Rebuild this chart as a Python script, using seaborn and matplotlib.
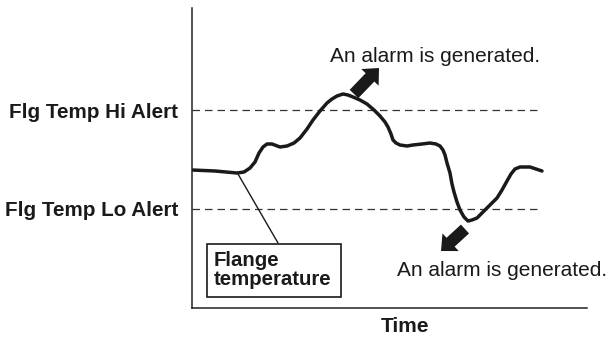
import matplotlib
matplotlib.use("Agg")
import matplotlib.pyplot as plt
import matplotlib.patches as mpatches
import pandas as pd
import seaborn as sns

# Flange temperature trace over time (arbitrary units)
time = [0, 23, 45, 52, 58, 63, 67, 71, 75, 80, 88, 95, 102, 108, 115, 121,
        128, 135, 140, 145, 151, 156, 161, 168, 175, 182, 188, 193, 196, 199,
        201, 204, 208, 215, 221, 230, 238, 244, 248, 251, 253, 255, 258, 260,
        262, 265, 268, 272, 276, 280, 285, 290, 295, 300, 305, 310, 315, 319,
        323, 328, 333, 338, 344, 350]
temperature = [138, 137, 135, 136, 140, 146, 155, 161, 164, 164, 161, 162, 165,
               170, 179, 188, 197, 205, 209, 212, 214, 213, 211, 208, 204, 198,
               192, 186, 181, 174, 168, 165, 163, 162, 163, 164, 165, 164, 162,
               158, 153, 145, 135, 124, 116, 106, 98, 91, 87, 88, 90, 95, 100,
               105, 110, 118, 127, 134, 139, 141, 141, 141, 139, 137]

# Alert thresholds
alert_levels = [198, 99]
alert_labels = ["Flg Temp Hi Alert", "Flg Temp Lo Alert"]

alarm_text = "An alarm is generated."
x_label = "Time"
box_label = "Flange\ntemperature"

sns.set_theme(style="white")
plt.rcParams["font.family"] = ["Liberation Sans", "DejaVu Sans"]

fig = plt.figure(figsize=(6.07, 3.40), dpi=100)
ax = fig.add_axes([192 / 607, 32 / 340, 395 / 607, 300 / 340])
ax.set_xlim(0, 395)
ax.set_ylim(0, 300)

ink = "#1a1a1a"

# threshold lines
for lvl in alert_levels:
    ax.axhline(lvl, xmin=0, xmax=346 / 395, color="#333333", lw=0.9,
               dashes=(6, 4))

# temperature trace
df = pd.DataFrame({"time": time, "temperature": temperature})
sns.lineplot(data=df, x="time", y="temperature", ax=ax, color=ink, lw=2.5,
             sort=False, solid_joinstyle="round", solid_capstyle="round")

# alarm arrows
for (x0, y0, x1, y1) in [(162, 214, 187, 240), (273, 79, 249, 57)]:
    ax.add_patch(mpatches.FancyArrow(x0, y0, x1 - x0, y1 - y0, width=12,
                                     head_width=24, head_length=13,
                                     length_includes_head=True,
                                     color=ink, lw=0))

ax.text(138, 251, alarm_text, fontsize=15, va="center", ha="left", color=ink)
ax.text(205, 37, alarm_text, fontsize=15, va="center", ha="left", color=ink)

# label box with leader line
ax.plot([46, 86], [134, 65], color=ink, lw=1.0)
ax.add_patch(mpatches.Rectangle((15, 11), 134, 53, fill=True, fc="white",
                                ec=ink, lw=1.2, zorder=3))
ax.text(22, 38, box_label, fontsize=14.7, fontweight="bold", va="center",
        ha="left", color=ink, linespacing=0.95, zorder=4)

# axes styling
ax.set_yticks(alert_levels)
ax.set_yticklabels(alert_labels, fontsize=14.9, fontweight="bold", color=ink)
ax.tick_params(axis="y", length=0, pad=10)
ax.set_xticks([])
ax.set_ylabel("")
ax.set_xlabel(x_label, fontsize=15, fontweight="bold", color=ink)
ax.xaxis.set_label_coords((405 - 192) / 395, -0.063)
ax.xaxis.label.set_va("center")

for side in ["top", "right"]:
    ax.spines[side].set_visible(False)
for side in ["left", "bottom"]:
    ax.spines[side].set_color("#222222")
    ax.spines[side].set_linewidth(1.1)

fig.savefig("out.png", dpi=100)
